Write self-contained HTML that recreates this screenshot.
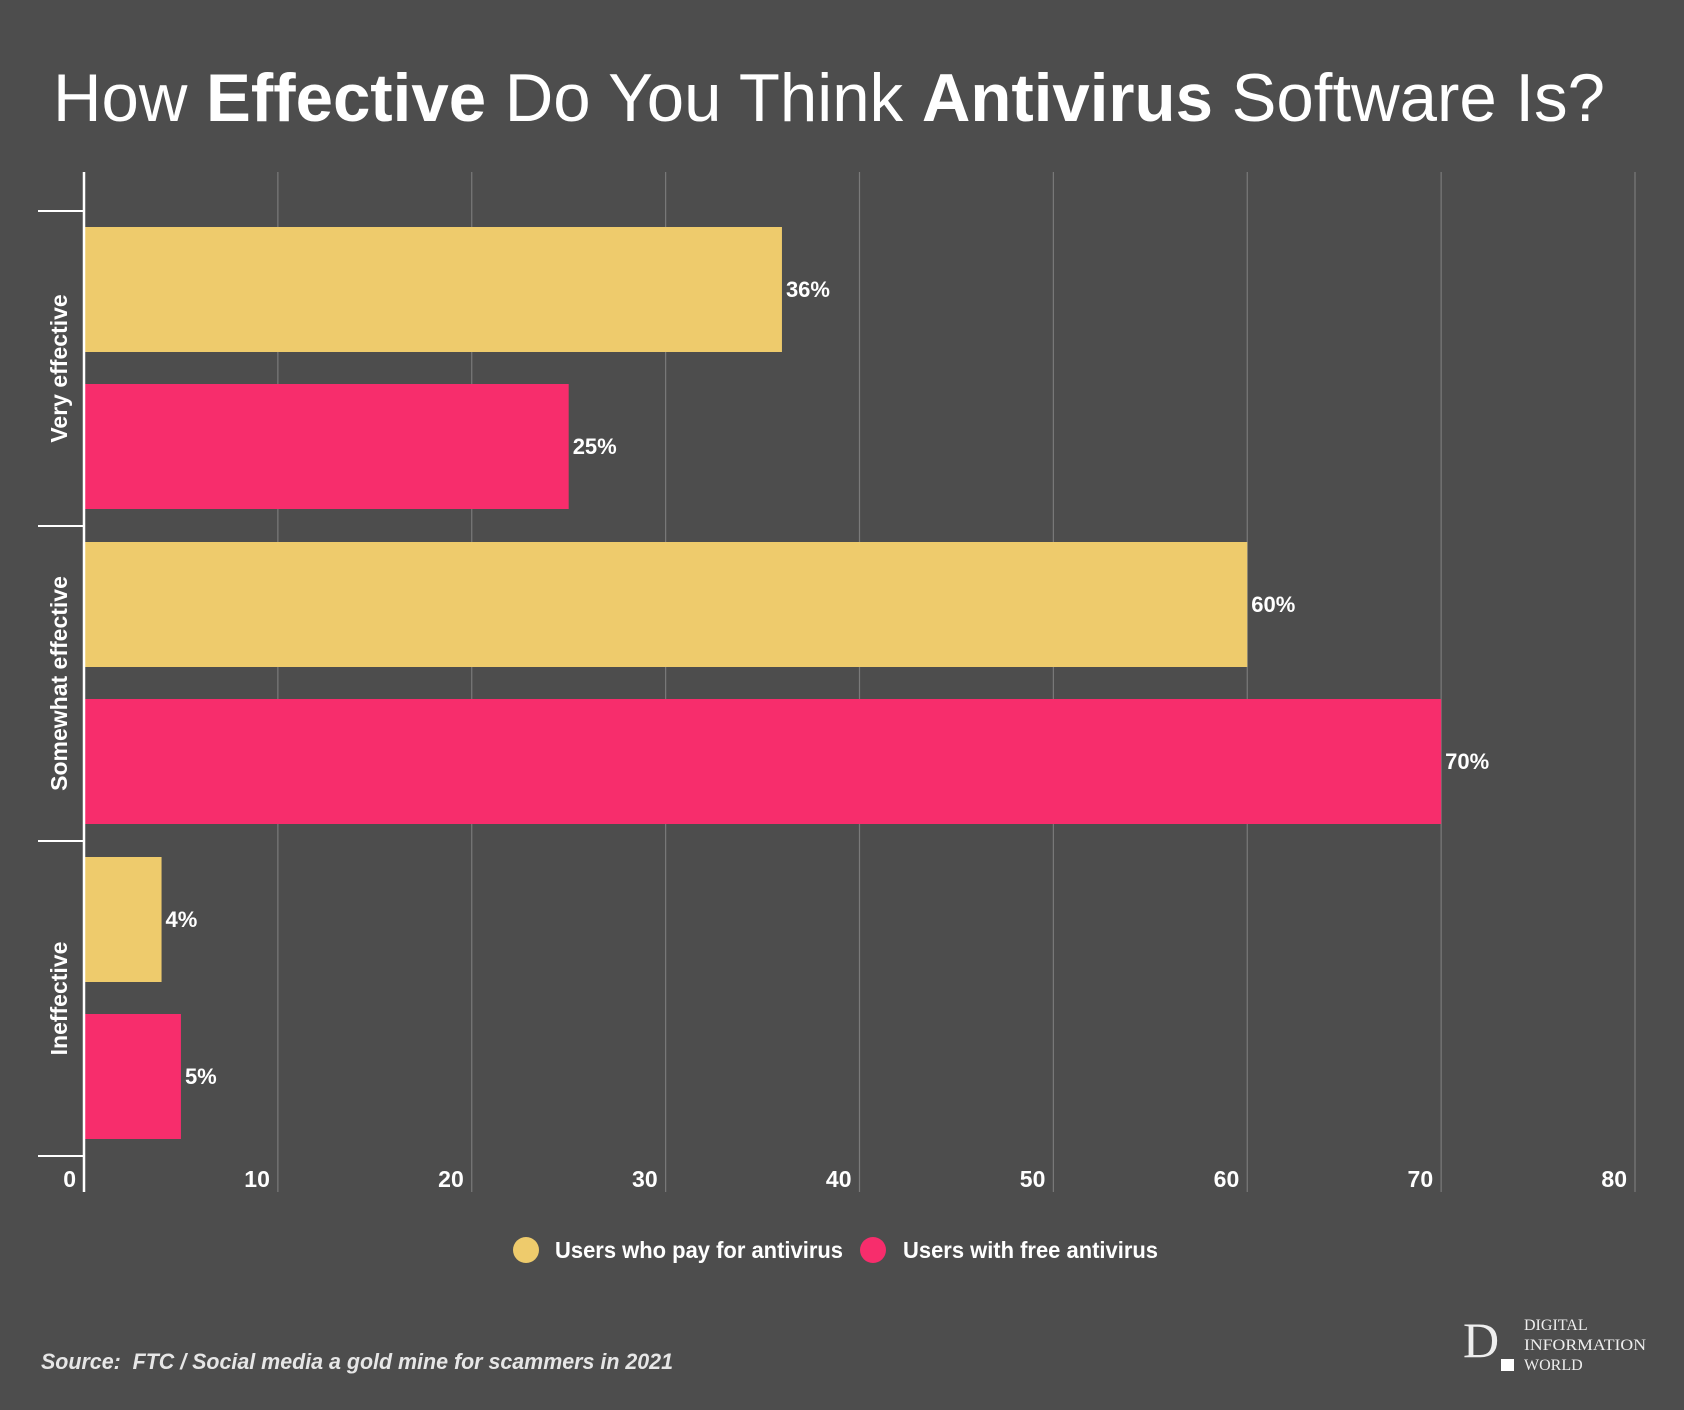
<!DOCTYPE html>
<html><head><meta charset="utf-8"><style>
html,body{margin:0;padding:0;background:#4d4d4d;}
svg{display:block;font-family:"Liberation Sans",sans-serif;}
</style></head><body>
<svg id="chart" width="1684" height="1410" viewBox="0 0 1684 1410">
<rect width="1684" height="1410" fill="#4d4d4d"/>
<text x="53" y="121" font-size="68" fill="#fff" textLength="1552" lengthAdjust="spacingAndGlyphs">How <tspan font-weight="bold">Effective</tspan> Do You Think <tspan font-weight="bold">Antivirus</tspan> Software Is?</text>
<g id="grid"></g>
<g id="bars"></g>
<g id="axes"></g>
<g>
<circle cx="526" cy="1250" r="13" fill="#eecb6c"/>
<text x="555" y="1258" font-size="23" font-weight="bold" fill="#fff" textLength="288" lengthAdjust="spacingAndGlyphs">Users who pay for antivirus</text>
<circle cx="873" cy="1250" r="13" fill="#f72d6c"/>
<text x="903" y="1258" font-size="23" font-weight="bold" fill="#fff" textLength="255" lengthAdjust="spacingAndGlyphs">Users with free antivirus</text>
</g>
<text x="41" y="1369" font-size="22" font-weight="bold" font-style="italic" fill="#e6e6e6" textLength="632" lengthAdjust="spacingAndGlyphs" xml:space="preserve">Source:  FTC / Social media a gold mine for scammers in 2021</text>
<g font-family="Liberation Serif, serif" fill="#eee">
<text x="1463" y="1357" font-size="50">D</text>
<rect x="1501" y="1359" width="13" height="12" fill="#fff"/>
<text x="1524" y="1330" font-size="16">DIGITAL</text>
<text x="1524" y="1350" font-size="16" textLength="122" lengthAdjust="spacingAndGlyphs">INFORMATION</text>
<text x="1524" y="1370" font-size="16">WORLD</text>
</g>
</svg>
<script>
const categories = ["Very effective", "Somewhat effective", "Ineffective"];
const paidValues = [36, 60, 4];
const freeValues = [25, 70, 5];
const xTicks = [0, 10, 20, 30, 40, 50, 60, 70, 80];
const ns = "http://www.w3.org/2000/svg";
const X0 = 84, X1 = 1635, XMAX = 80;
const plotTop = 172, axisBottom = 1192;
const bandTop = 211, bandH = 315;
function xs(v){ return X0 + v / XMAX * (X1 - X0); }
function mk(tag, attrs, parent){ const e = document.createElementNS(ns, tag); for (const k in attrs) e.setAttribute(k, attrs[k]); parent.appendChild(e); return e; }
const grid = document.getElementById('grid'), bars = document.getElementById('bars'), axes = document.getElementById('axes');
xTicks.forEach(t => {
  if (t > 0) {
    const l = mk('line', {x1: xs(t), x2: xs(t), y1: plotTop, y2: axisBottom, stroke: '#7a7a7a', 'stroke-width': 1.2}, grid);
    
    
  }
  const tx = mk('text', {x: xs(t) - 8, y: 1187, 'text-anchor': 'end', 'font-size': 23, 'font-weight': 'bold', fill: '#fff'}, axes);
  tx.textContent = t;
  
  
});
categories.forEach((c, i) => {
  const top = bandTop + i * bandH;
  const series = [[paidValues[i], '#eecb6c', 'paid'], [freeValues[i], '#f72d6c', 'free']];
  series.forEach((s, j) => {
    const y = top + 16 + j * 157;
    const r = mk('rect', {x: X0, y: y, width: xs(s[0]) - X0, height: 125, fill: s[1]}, bars);
    
    
    const lb = mk('text', {x: xs(s[0]) + 4, y: y + 70, 'font-size': 22, 'font-weight': 'bold', fill: '#fff'}, bars);
    lb.textContent = s[0] + '%';
    
    
  });
  const cy = top + bandH / 2;
  const ct = mk('text', {x: 0, y: 0, transform: 'translate(67,' + cy + ') rotate(-90)', 'text-anchor': 'middle', 'font-size': 23, 'font-weight': 'bold', fill: '#fff'}, axes);
  ct.textContent = c;
  
  
});
for (let i = 0; i <= categories.length; i++) {
  const y = bandTop + i * bandH;
  const tk = mk('line', {x1: 38, x2: 83, y1: y, y2: y, stroke: '#fff', 'stroke-width': 2}, axes);
  
  
}
const ax = mk('line', {x1: X0, x2: X0, y1: plotTop, y2: axisBottom, stroke: '#fff', 'stroke-width': 2.5}, axes);


</script>
</body></html>
